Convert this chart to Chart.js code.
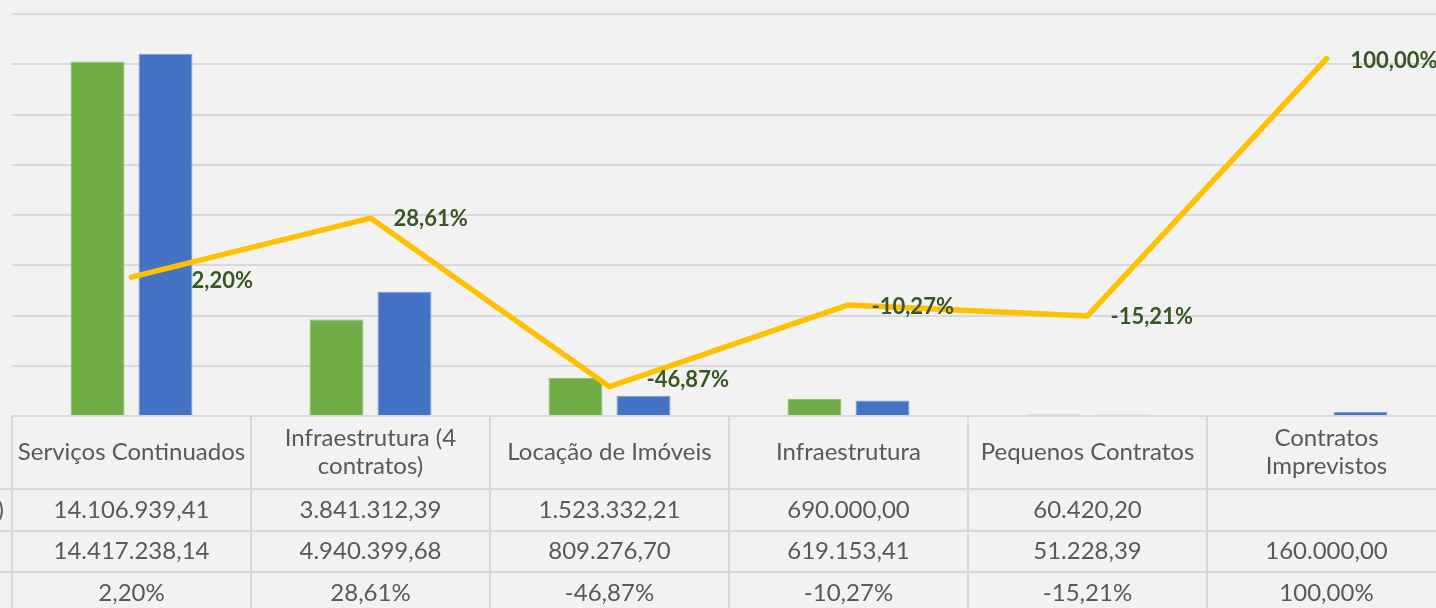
<!DOCTYPE html>
<html>
<head>
<meta charset="utf-8">
<script src="https://cdn.jsdelivr.net/npm/chart.js@4"></script>
<style>
  html, body { margin: 0; padding: 0; overflow: hidden; background: #f2f2f2; }
  #wrap { width: 1450px; height: 640px; }
</style>
</head>
<body>
<div id="wrap"><canvas id="grafico" width="1450" height="640"></canvas></div>
<script>
// dados do gráfico
const categorias = [
    'Serviços Continuados',
    ['Infraestrutura (4', 'contratos)'],
    'Locação de Imóveis',
    'Infraestrutura',
    'Pequenos Contratos',
    ['Contratos', 'Imprevistos']
];
const nomesSeries = ['Valor Anterior (R$)', 'Valor Atual', 'Variação'];
const valorAnterior = [14106939.41, 3841312.39, 1523332.21, 690000.00, 60420.20, null];
const valorAtual = [14417238.14, 4940399.68, 809276.70, 619153.41, 51228.39, 160000.00];
const variacao = [2.20, 28.61, -46.87, -10.27, -15.21, 100.00];

function fmtBR(v) {
    if (v === null || v === undefined) return '';
    const partes = v.toFixed(2).split('.');
    return partes[0].replace(/\B(?=(\d{3})+(?!\d))/g, '.') + ',' + partes[1];
}
function fmtPct(v) {
    return v.toFixed(2).replace('.', ',') + '%';
}

// rótulos da linha (deslocamentos manuais, como no Excel)
const rotulosLinha = {
    id: 'rotulosLinha',
    afterDatasetsDraw(chart) {
        const ctx = chart.ctx;
        const meta = chart.getDatasetMeta(2);
        const desloc = [[60, 4], [23, 1], [37, -7], [23, 2], [23, 1], [24, 2]];
        ctx.save();
        ctx.font = 'bold 22px Lato';
        ctx.fillStyle = '#375623';
        ctx.textAlign = 'left';
        ctx.textBaseline = 'middle';
        meta.data.forEach((pt, i) => {
            ctx.fillText(fmtPct(variacao[i]), pt.x + desloc[i][0], pt.y + desloc[i][1]);
        });
        ctx.restore();
    }
};

// tabela de dados abaixo do gráfico
const tabelaDados = {
    id: 'tabelaDados',
    afterDraw(chart) {
        const ctx = chart.ctx;
        const area = chart.chartArea;
        const n = categorias.length;
        const colW = (area.right - area.left) / n;
        const topo = area.bottom;
        const linhas = [topo, topo + 73, topo + 115, topo + 156, topo + 198];
        const valores = [valorAnterior.map(fmtBR), valorAtual.map(fmtBR), variacao.map(fmtPct)];

        ctx.save();
        ctx.strokeStyle = '#d9d9d9';
        ctx.lineWidth = 2;
        ctx.beginPath();
        ctx.moveTo(area.left, linhas[0]);
        ctx.lineTo(chart.width, linhas[0]);
        for (let r = 1; r < linhas.length; r++) {
            ctx.moveTo(0, linhas[r]);
            ctx.lineTo(chart.width, linhas[r]);
        }
        for (let c = 0; c <= n; c++) {
            const x = area.left + c * colW;
            ctx.moveTo(x, linhas[0]);
            ctx.lineTo(x, linhas[linhas.length - 1]);
        }
        ctx.stroke();

        ctx.fillStyle = '#595959';
        ctx.font = '24px Lato';
        ctx.textAlign = 'center';
        ctx.textBaseline = 'middle';
        categorias.forEach((cat, i) => {
            const cx = area.left + (i + 0.5) * colW;
            const partes = Array.isArray(cat) ? cat : [cat];
            const meio = (linhas[0] + linhas[1]) / 2;
            partes.forEach((t, k) => {
                ctx.fillText(t, cx, meio + (k - (partes.length - 1) / 2) * 28);
            });
        });
        valores.forEach((serie, r) => {
            const cy = (linhas[r + 1] + linhas[r + 2]) / 2;
            serie.forEach((t, i) => {
                ctx.fillText(t, area.left + (i + 0.5) * colW, cy);
            });
        });
        // nomes das séries (coluna da legenda, quase toda fora da imagem)
        ctx.textAlign = 'right';
        nomesSeries.forEach((nome, r) => {
            const cy = (linhas[r + 1] + linhas[r + 2]) / 2;
            ctx.fillText(nome, r === 0 ? 4 : -8, cy);
        });
        ctx.restore();
    }
};

new Chart(document.getElementById('grafico'), {
    type: 'bar',
    data: {
        labels: categorias,
        datasets: [
            {
                label: nomesSeries[0],
                data: valorAnterior,
                backgroundColor: '#70ad47',
                borderColor: '#8fc06c',
                borderWidth: 1,
                categoryPercentage: 0.569,
                barPercentage: 0.794,
                order: 1
            },
            {
                label: nomesSeries[1],
                data: valorAtual,
                backgroundColor: '#4472c4',
                borderColor: '#7f9fd8',
                borderWidth: 1,
                categoryPercentage: 0.569,
                barPercentage: 0.794,
                order: 1
            },
            {
                type: 'line',
                label: nomesSeries[2],
                data: variacao,
                yAxisID: 'y1',
                borderColor: '#ffc000',
                borderWidth: 5.5,
                borderCapStyle: 'round',
                borderJoinStyle: 'round',
                pointRadius: 0,
                tension: 0,
                order: 0
            }
        ]
    },
    options: {
        responsive: false,
        animation: false,
        layout: {
            padding: { left: 12, right: 4, top: 14, bottom: 224 }
        },
        plugins: {
            legend: { display: false },
            tooltip: { enabled: false }
        },
        scales: {
            x: { display: false },
            y: {
                min: 0,
                max: 16000000,
                ticks: { stepSize: 2000000, display: false },
                grid: { color: '#d9d9d9', lineWidth: 2, drawTicks: false },
                border: { display: false }
            },
            y1: {
                display: false,
                position: 'right',
                min: -60,
                max: 120
            }
        }
    },
    plugins: [rotulosLinha, tabelaDados]
});
</script>
</body>
</html>
